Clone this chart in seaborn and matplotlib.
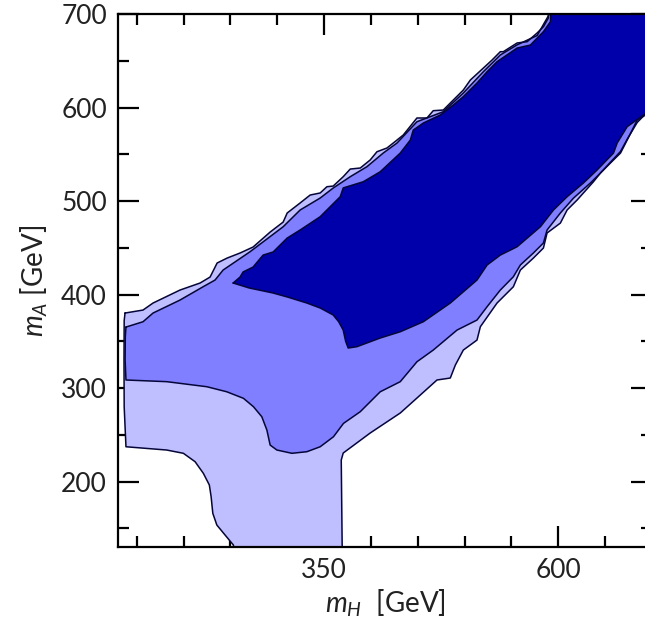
import numpy as np
import pandas as pd
import matplotlib
matplotlib.use("Agg")
import matplotlib.pyplot as plt
from matplotlib.ticker import FixedLocator, MultipleLocator
import seaborn as sns

# ---- data (region boundaries in GeV) ----
light_x = [137.5, 156.7, 167.4, 196.2, 217.6, 228.3, 235.8, 246.5, 260.3, 274.2, 292.4, 306.3, 310.6,
           324.4, 335.1, 345.8, 353.0, 359.7, 370.4, 377.9, 388.6, 399.2, 406.4, 417.1, 427.8, 434.5,
           449.1, 459.8, 466.5, 477.2, 487.9, 498.6, 506.1, 520.0, 529.3, 538.1, 541.3, 556.0, 566.7,
           577.4, 584.1, 589.4, 589.4, 720.0, 720.0,
           693.0, 684.2, 673.5, 666.4, 658.9, 645.0, 637.5, 620.1, 609.4, 602.2, 588.0, 584.1, 573.4,
           559.5, 552.0, 534.6, 516.8, 513.2, 498.6, 490.1, 484.7, 470.5, 449.1, 431.3, 399.2, 370.4,
           368.3, 369.3, 369.5, 254.0, 253.2, 244.3, 235.5, 231.2, 229.4, 227.5, 221.1, 212.3, 199.8,
           182.0, 138.5, 136.6, 136.4, 136.6]
light_y = [380.2, 383.4, 390.9, 404.8, 412.3, 418.7, 433.7, 439.0, 444.4, 450.8, 466.8, 477.5, 487.2,
           497.9, 506.4, 508.6, 515.3, 516.0, 526.0, 534.2, 535.3, 543.9, 552.7, 556.7, 565.2, 570.6,
           588.8, 588.8, 596.6, 597.3, 608.0, 618.7, 629.4, 642.2, 650.8, 659.7, 659.7, 669.0, 670.4,
           679.7, 686.4, 695.7, 710.0, 710.0, 618.0,
           593.0, 584.0, 566.0, 553.0, 545.0, 530.0, 520.6, 501.1, 490.4, 476.4, 465.8, 449.7, 439.0,
           426.2, 408.3, 390.9, 365.6, 351.3, 340.6, 324.6, 310.7, 308.6, 289.3, 273.3, 251.9, 230.5,
           223.0, 130.0, 120.0, 120.0, 132.1, 142.8, 153.5, 166.0, 183.8, 196.3, 208.8, 221.2, 230.2,
           233.7, 237.2, 280.0, 330.0, 372.0]

medium_x = [138.5, 156.7, 167.4, 196.2, 220.8, 233.6, 242.2, 271.0, 306.3, 324.4, 345.8, 359.7, 377.9,
            395.7, 413.1, 427.8, 449.1, 477.2, 498.6, 520.0, 538.1, 556.0, 577.4, 590.5, 590.5,
            720.0, 720.0,
            693.0, 684.2, 673.5, 666.4, 658.9, 645.0, 634.3, 616.1, 602.2, 588.0, 584.1, 573.4, 559.5,
            552.0, 538.1, 524.0, 513.2, 491.9, 466.5, 449.1, 431.3, 409.9, 388.6, 370.7, 360.0, 345.8,
            331.6, 315.6, 299.6, 292.4, 288.9, 283.5, 274.6, 263.9, 246.1, 224.8, 182.0, 138.5, 137.6, 137.8]
medium_y = [365.2, 370.9, 380.2, 394.1, 408.3, 415.5, 426.2, 445.8, 472.5, 490.4, 503.2, 513.9, 526.0,
            536.7, 551.3, 562.0, 584.8, 595.5, 615.5, 638.3, 656.2, 667.0, 677.0, 700.0, 710.0,
            710.0, 617.0,
            592.0, 586.6, 565.2, 551.3, 543.9, 529.9, 519.3, 503.0, 487.2, 469.0, 455.1, 444.4, 431.6,
            419.0, 404.8, 387.0, 372.7, 362.0, 340.6, 328.1, 306.8, 296.0, 274.7, 262.2, 247.9, 237.2,
            231.9, 230.2, 233.7, 239.0, 255.1, 269.3, 280.0, 289.0, 296.0, 301.4, 306.8, 308.6, 330.0, 355.0]

dark_x = [252.9, 260.3, 263.5, 274.2, 284.9, 295.6, 310.6, 324.4, 345.8, 367.2, 370.4, 391.8, 409.9,
          431.3, 442.0, 445.2, 455.9, 474.0, 487.9, 498.6, 513.2, 524.0, 534.6, 556.0, 570.2, 584.1,
          591.6, 592.3, 720.0, 720.0,
          690.9, 673.5, 662.8, 658.9, 641.4, 626.8, 609.4, 594.8, 580.9, 556.0, 538.1, 524.0, 513.2,
          484.7, 455.9, 431.3, 409.9, 385.0, 375.7, 373.0, 370.4, 365.5, 359.7, 346.0, 331.6, 312.0,
          295.6, 270.0]
dark_y = [412.3, 418.7, 424.1, 429.4, 442.2, 445.5, 460.4, 469.0, 483.2, 504.6, 514.0, 520.6, 531.3,
          551.3, 565.2, 575.9, 583.4, 592.0, 602.7, 611.6, 626.2, 638.3, 649.0, 663.6, 666.8, 681.1,
          691.8, 710.0, 710.0, 617.0,
          592.0, 579.5, 562.0, 551.3, 533.2, 519.3, 504.6, 490.4, 472.5, 451.1, 442.2, 431.6, 415.5,
          390.9, 370.9, 360.2, 353.5, 344.2, 342.8, 350.0, 362.0, 371.0, 378.1, 385.5, 390.9, 397.0,
          401.6, 407.0]

x_major_ticks = [100, 350, 600]
y_major_ticks = [200, 300, 400, 500, 600, 700]
x_limits = (130, 700)
y_limits = (130, 700)
region_colors = ["#bfbfff", "#7f7fff", "#0000aa"]
edge_color = "#05053a"

# ---- styling ----
sns.set_theme(style="ticks")
plt.rcParams["font.family"] = ["Lato", "DejaVu Sans"]
plt.rcParams["mathtext.fontset"] = "custom"
plt.rcParams["mathtext.rm"] = "Lato"
plt.rcParams["mathtext.it"] = "Lato:italic"

fig = plt.figure(figsize=(6.45, 6.3), dpi=100)
ax = fig.add_axes([118 / 645, 83 / 630, 534 / 645, 533 / 630])

regions = [(light_x, light_y), (medium_x, medium_y), (dark_x, dark_y)]
for (xs, ys), col in zip(regions, region_colors):
    ax.fill(xs, ys, facecolor=col, edgecolor="none", zorder=1)
    df = pd.DataFrame({"x": list(xs) + [xs[0]], "y": list(ys) + [ys[0]]})
    sns.lineplot(data=df, x="x", y="y", sort=False, estimator=None, ax=ax,
                 color=edge_color, linewidth=1.1, zorder=2)

ax.set_xlim(*x_limits)
ax.set_ylim(*y_limits)
ax.xaxis.set_major_locator(FixedLocator(x_major_ticks))
ax.xaxis.set_minor_locator(MultipleLocator(50))
ax.yaxis.set_major_locator(FixedLocator(y_major_ticks))
ax.yaxis.set_minor_locator(MultipleLocator(50))
ax.tick_params(which="both", direction="in", top=True, right=True, width=1.6,
               color="black", labelsize=19, labelcolor="#222222", pad=8)
ax.tick_params(which="major", length=15)
ax.tick_params(which="minor", length=8)
for s in ax.spines.values():
    s.set_linewidth(1.6)
    s.set_color("black")

ax.set_xlabel(r"$m_H$  [GeV]", fontsize=20, color="#222222", labelpad=3)
ax.set_ylabel(r"$m_A$ [GeV]", fontsize=20, color="#222222", labelpad=8)
ax.grid(False)

fig.savefig("out.png", dpi=100)
